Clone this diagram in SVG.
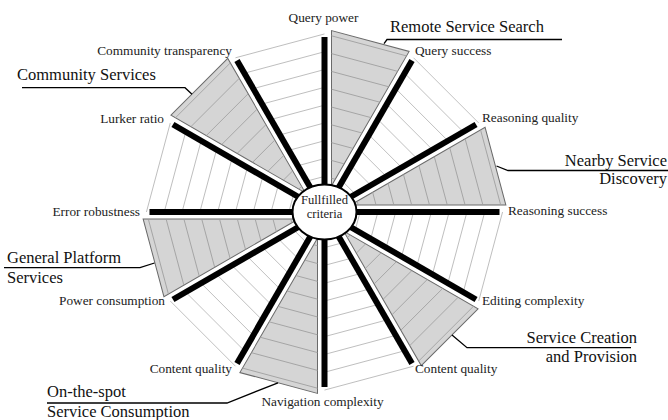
<svg xmlns="http://www.w3.org/2000/svg" xmlns:xlink="http://www.w3.org/1999/xlink" width="668" height="420" viewBox="0 0 668 420">
<style>
.wgrid{fill:none;stroke:#bdbdbd;stroke-width:0.9}
.gfill{fill:#d5d5d5;stroke:#6a6a6a;stroke-width:1}
.ggrid{fill:none;stroke:#9e9e9e;stroke-width:0.8}
.spoke{stroke:#000;stroke-width:6;stroke-linecap:butt}
.lbl{font-family:"Liberation Serif","Times New Roman",serif;font-size:13.3px;fill:#222}
.grp{font-family:"Liberation Serif","Times New Roman",serif;font-size:16.5px;fill:#111}
.ctr{font-family:"Liberation Serif","Times New Roman",serif;font-size:12.6px;fill:#222;text-anchor:middle}
.lead{fill:none;stroke:#000;stroke-width:1.3}
</style>
<defs>
<path id="ws" class="wgrid" d="M-4.61,-17.2H4.61M-9.22,-34.4H9.22M-13.83,-51.6H13.83M-18.43,-68.8H18.43M-23.04,-86H23.04M-27.65,-103.2H27.65M-32.26,-120.4H32.26M-36.87,-137.6H36.87M-41.48,-154.8H41.48M-46.09,-172H46.09"/>
<g id="gs">
<polygon class="gfill" points="0,-27.05 -40.18,-177 40.18,-177"/>
<path class="ggrid" d="M-1.97,-34.4H1.97M-6.58,-51.6H6.58M-11.19,-68.8H11.19M-15.8,-86H15.8M-20.41,-103.2H20.41M-25.01,-120.4H25.01M-29.62,-137.6H29.62M-34.23,-154.8H34.23M-38.84,-172H38.84"/>
</g>
<line id="sp" class="spoke" x1="0" y1="-26" x2="0" y2="-175"/>
</defs>
<g id="sectors">
<use xlink:href="#ws" href="#ws" transform="translate(324.5,212) rotate(45)"/>
<use xlink:href="#ws" href="#ws" transform="translate(324.5,212) rotate(105)"/>
<use xlink:href="#ws" href="#ws" transform="translate(324.5,212) rotate(165)"/>
<use xlink:href="#ws" href="#ws" transform="translate(324.5,212) rotate(225)"/>
<use xlink:href="#ws" href="#ws" transform="translate(324.5,212) rotate(285)"/>
<use xlink:href="#ws" href="#ws" transform="translate(324.5,212) rotate(345)"/>
<use id="w-remote" xlink:href="#gs" href="#gs" transform="translate(324.5,212) rotate(15)"/>
<use id="w-nearby" xlink:href="#gs" href="#gs" transform="translate(324.5,212) rotate(75)"/>
<use id="w-creation" xlink:href="#gs" href="#gs" transform="translate(324.5,212) rotate(135)"/>
<use id="w-onspot" xlink:href="#gs" href="#gs" transform="translate(324.5,212) rotate(195)"/>
<use id="w-general" xlink:href="#gs" href="#gs" transform="translate(324.5,212) rotate(255)"/>
<use id="w-community" xlink:href="#gs" href="#gs" transform="translate(324.5,212) rotate(315)"/>
</g>
<g id="spokes">
<use xlink:href="#sp" href="#sp" transform="translate(324.5,212) rotate(0)"/>
<use xlink:href="#sp" href="#sp" transform="translate(324.5,212) rotate(30)"/>
<use xlink:href="#sp" href="#sp" transform="translate(324.5,212) rotate(60)"/>
<use xlink:href="#sp" href="#sp" transform="translate(324.5,212) rotate(90)"/>
<use xlink:href="#sp" href="#sp" transform="translate(324.5,212) rotate(120)"/>
<use xlink:href="#sp" href="#sp" transform="translate(324.5,212) rotate(150)"/>
<use xlink:href="#sp" href="#sp" transform="translate(324.5,212) rotate(180)"/>
<use xlink:href="#sp" href="#sp" transform="translate(324.5,212) rotate(210)"/>
<use xlink:href="#sp" href="#sp" transform="translate(324.5,212) rotate(240)"/>
<use xlink:href="#sp" href="#sp" transform="translate(324.5,212) rotate(270)"/>
<use xlink:href="#sp" href="#sp" transform="translate(324.5,212) rotate(300)"/>
<use xlink:href="#sp" href="#sp" transform="translate(324.5,212) rotate(330)"/>
</g>
<g id="center">
<ellipse cx="324.5" cy="212" rx="32" ry="27.5" fill="#fff" stroke="#000" stroke-width="2"/>
<text class="ctr" x="324.5" y="203.5">Fullfilled</text>
<text class="ctr" x="324.5" y="217.5">criteria</text>
</g>
<g id="axis-labels">
<text id="l-query-power" class="lbl" x="323.5" y="22" text-anchor="middle">Query power</text>
<text id="l-query-success" class="lbl" x="415" y="55">Query success</text>
<text id="l-reasoning-quality" class="lbl" x="482" y="122">Reasoning quality</text>
<text id="l-reasoning-success" class="lbl" x="508" y="215">Reasoning success</text>
<text id="l-editing" class="lbl" x="482" y="305">Editing complexity</text>
<text id="l-content-r" class="lbl" x="415" y="373">Content quality</text>
<text id="l-navigation" class="lbl" x="322.5" y="406" text-anchor="middle">Navigation complexity</text>
<text id="l-content-l" class="lbl" x="232" y="373" text-anchor="end">Content quality</text>
<text id="l-power" class="lbl" x="165" y="305" text-anchor="end">Power consumption</text>
<text id="l-error" class="lbl" x="140" y="216" text-anchor="end">Error robustness</text>
<text id="l-lurker" class="lbl" x="164" y="123" text-anchor="end">Lurker ratio</text>
<text id="l-community-t" class="lbl" x="232" y="55" text-anchor="end">Community transparency</text>
</g>
<g id="g-remote"><text class="grp" x="390" y="32">Remote Service Search</text></g>
<g id="g-nearby"><text class="grp" x="667" y="166" text-anchor="end">Nearby Service</text><text class="grp" x="667" y="184" text-anchor="end">Discovery</text></g>
<g id="g-creation"><text class="grp" x="637" y="343" text-anchor="end">Service Creation</text><text class="grp" x="637" y="362" text-anchor="end">and Provision</text></g>
<g id="g-general"><text class="grp" x="7" y="263">General Platform</text><text class="grp" x="7" y="283">Services</text></g>
<g id="g-community"><text class="grp" x="17" y="80">Community Services</text></g>
<g id="g-onspot"><text class="grp" x="47" y="397">On-the-spot</text><text class="grp" x="47" y="417">Service Consumption</text></g>
<g id="connectors">
<polyline class="lead" points="562,39.5 387,39.5 384,43.6"/>
<polyline class="lead" points="668,170.5 508,170.5 496.5,166"/>
<polyline class="lead" points="631,347.7 467,347.7 452,335"/>
<polyline class="lead" points="4,267.7 140,267.7 154.5,263"/>
<polyline class="lead" points="22,87.7 185,87.7 192,94.2"/>
<polyline class="lead" points="47,403 227,403 278,382.8"/>
</g>
</svg>
